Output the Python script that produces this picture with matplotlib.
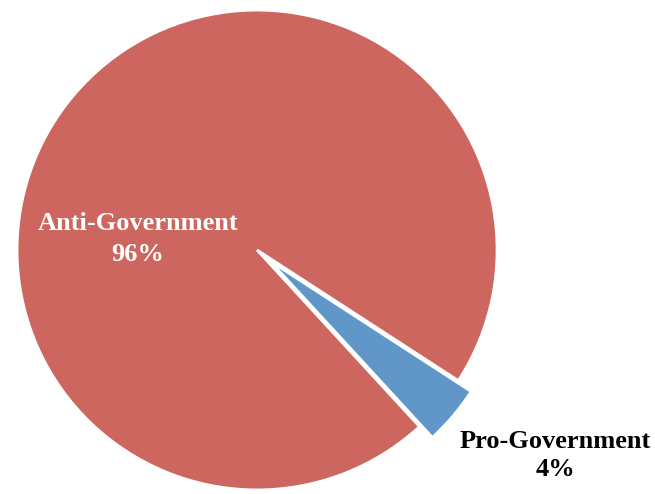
import matplotlib.pyplot as plt

# slice data
labels = ['Anti-Government', 'Pro-Government']
values = [96, 4]
colors = ['#CD665E', '#6196C9']


def main():
    fig = plt.figure(figsize=(6.55, 4.94), dpi=100)
    ax = fig.add_axes([0, 0, 1, 1])

    wedges, _ = ax.pie(values, colors=colors, startangle=-33,
                       explode=[0, 0.07], radius=1.0,
                       wedgeprops={'edgecolor': 'white', 'linewidth': 2})

    # axes limits chosen so 1 data unit = ~240 px in both directions
    ax.set_xlim(-1.071, 1.658)
    ax.set_ylim(-1.017, 1.042)
    ax.set_aspect('auto')
    ax.axis('off')

    font = dict(family='Liberation Serif', fontweight='bold', fontsize=19,
                ha='center', va='center')
    ax.text(-0.496, 0.046, f'{labels[0]}\n{values[0]}%', color='white',
            linespacing=1.45, **font)
    ax.text(1.242, -0.856, f'{labels[1]}\n{values[1]}%', color='black',
            linespacing=1.3, **font)

    fig.savefig('out.png', dpi=100)


if __name__ == "__main__":
    main()
